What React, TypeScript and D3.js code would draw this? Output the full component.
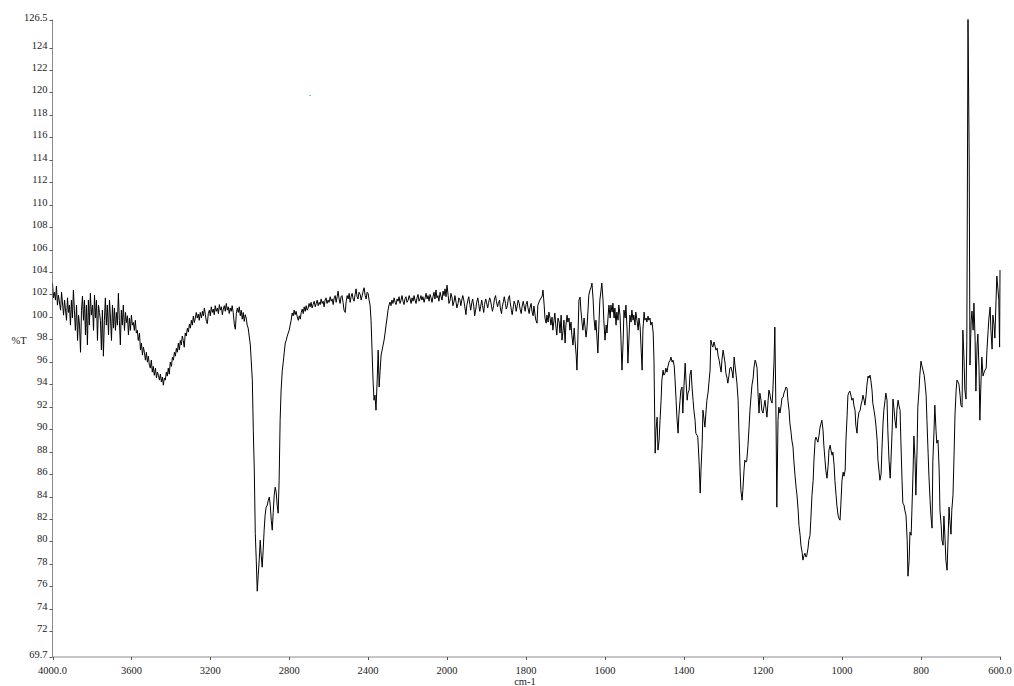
import React from "react";
import * as d3 from "d3";

// ---- Data: wavenumber (cm-1), %T ----
const region4000to3000: [number, number][] = [
  [4000,103.0],[3995,101.7],[3990,102.2],[3985,101.5],[3980,102.75],[3975,101.05],[3970,101.94],[3959,100.6],[3954,102.2],[3944,100.16],[3939,101.5],[3929,99.7],[3924,101.7],[3919,100.4],[3914,101.05],[3909,99.27],[3904,101.5],[3899,99.9],[3894,102.4],[3889,100.6],[3884,98.8],[3878,101.05],[3873,97.9],[3868,100.16],[3863,99.27],[3858,96.85],[3853,100.6],[3848,101.85],[3843,99.7],[3838,101.5],[3833,98.4],[3828,101.05],[3823,97.5],[3818,101.5],[3813,99.27],[3808,102.1],[3803,100.16],[3797,101.05],[3792,98.8],[3787,101.94],[3782,99.9],[3777,101.5],[3772,97.9],[3767,101.05],[3762,100.4],[3757,99.7],[3752,97.05],[3747,100.6],[3742,96.5],[3737,99.7],[3732,101.7],[3727,99.27],[3722,101.05],[3716,98.4],[3711,101.5],[3706,99.9],[3701,97.9],[3696,101.05],[3691,99.0],[3686,100.8],[3681,98.8],[3676,100.4],[3671,99.27],[3666,102.1],[3661,99.7],[3656,97.5],[3651,100.6],[3646,99.27],[3641,101.05],[3635,98.8],[3630,100.4],[3625,99.5],[3620,100.1],[3615,98.4],[3610,99.9],[3605,98.8],[3600,100.16],[3595,99.27],[3590,99.5],[3585,98.8],[3580,99.7],[3575,98.56],[3570,98.8],[3565,97.9],[3559,98.56],[3554,97.05],[3549,97.67],[3544,96.6],[3539,97.3],[3534,96.85],[3529,96.15],[3524,96.85],[3519,95.97],[3514,96.5],[3509,95.7],[3504,95.44],[3499,96.15],[3494,95.08],[3489,95.6],[3484,94.8],[3478,95.44],[3473,94.55],[3468,95.08],[3463,94.8],[3458,94.37],[3453,94.9],[3448,94.2],[3443,94.64],[3438,93.92],[3433,94.55],[3428,94.37],[3423,95.08],[3418,94.73],[3413,95.44],[3408,94.9],[3403,95.97],[3397,95.6],[3392,96.4],[3387,96.15],[3382,96.85],[3377,96.5],[3372,97.2],[3367,96.85],[3362,97.67],[3357,97.05],[3352,97.9],[3347,97.5],[3342,98.3],[3337,97.9],[3332,97.3],[3327,98.56],[3322,98.3],[3316,99.0],[3311,98.65],[3306,99.36],[3301,99.0],[3296,99.7],[3291,99.27],[3286,100.07],[3281,99.5],[3276,99.9],[3271,100.4],[3266,99.9],[3261,100.25],[3256,99.7],[3251,100.4],[3245,99.9],[3240,100.5],[3235,100.1],[3230,100.8],[3225,100.2],[3220,99.6],[3215,99.4],[3210,100.3],[3205,100.6],[3200,100.1],[3195,100.9],[3190,100.4],[3185,100.7],[3180,100.2],[3175,101.0],[3170,100.5],[3164,100.8],[3159,100.3],[3154,101.1],[3149,100.6],[3144,100.9],[3139,100.2],[3134,100.7],[3129,101.0],[3124,100.5],[3119,101.2],[3114,100.6],[3109,100.9],[3104,100.3],[3099,100.8],[3094,100.5],[3089,101.0],[3084,100.4],[3078,99.3],[3073,98.9],[3068,100.3],[3063,100.8],[3058,100.4],[3053,100.9],[3048,100.1],[3043,100.6],[3038,99.8],[3033,100.4],[3028,99.6],[3023,100.2],[3018,99.9],[3013,99.27],[3008,99.0]
];

const region3000to2000: [number, number][] = [
  [2997,97.5],[2987,94.37],[2982,89.9],[2977,86.35],[2972,80.73],[2967,78.33],[2962,75.56],[2957,76.99],[2952,78.33],[2947,80.1],[2942,78.77],[2937,77.7],[2932,79.22],[2927,81.0],[2922,82.34],[2917,83.05],[2911,83.23],[2906,83.67],[2901,83.94],[2896,83.23],[2891,81.89],[2886,81.0],[2881,82.6],[2876,84.12],[2871,84.83],[2866,84.39],[2861,83.23],[2856,82.51],[2851,85.45],[2846,90.8],[2841,93.48],[2835,95.26],[2830,95.97],[2825,96.86],[2820,97.67],[2815,97.93],[2810,98.29],[2805,98.56],[2800,98.82],[2795,99.27],
  [2790,99.71],[2785,100.34],[2780,100.1],[2775,100.6],[2770,100.2],[2765,100.5],[2759,100.0],[2754,99.7],[2749,100.1],[2744,99.8],[2739,100.4],[2734,100.7],[2729,100.3],[2724,100.9],[2719,100.5],[2714,101.0],[2709,100.6],[2704,100.8],[2699,101.2],[2694,100.9],[2689,101.3],[2684,100.8],[2679,101.1],[2673,101.4],[2668,100.9],[2663,101.2],[2658,101.5],[2653,101.0],[2648,101.3],[2643,101.1],[2638,101.6],[2633,101.2],[2628,101.4],[2623,100.9],[2618,101.5],[2613,101.7],[2608,101.2],[2603,101.5],[2598,101.3],[2592,101.8],[2587,101.4],[2582,101.6],[2577,101.1],[2572,101.7],[2567,101.9],[2562,101.3],[2557,101.8],[2552,102.3],[2547,101.6],[2542,101.2],[2537,101.8],[2532,101.9],[2527,101.3],[2522,100.6],[2516,100.4],[2511,101.4],[2506,101.9],[2501,101.6],[2496,102.1],[2491,101.3],[2486,101.8],[2481,102.1],[2476,101.6],[2471,101.4],[2466,102.0],[2461,102.5],[2456,101.8],[2451,101.6],[2446,102.2],[2440,102.0],[2435,101.5],[2430,101.9],[2425,102.3],[2420,102.6],[2415,101.9],[2410,101.6],[2405,102.2],[2400,102.1],[2395,101.5],[2390,101.05],
  [2385,99.71],[2380,97.04],[2375,94.37],[2370,92.58],[2365,93.03],[2360,91.69],[2354,94.37],[2349,97.04],[2344,93.75],[2339,95.26],[2334,96.6],[2329,97.04],[2324,97.49],[2319,97.93],[2314,98.56],[2309,99.27],[2304,99.9],[2299,100.61],[2294,101.05],
  [2289,101.32],[2284,101.0],[2279,101.5],[2274,101.2],[2268,101.7],[2263,101.3],[2258,101.1],[2253,101.6],[2248,101.4],[2243,101.8],[2238,101.2],[2233,101.5],[2228,101.9],[2223,101.4],[2218,101.1],[2213,101.6],[2208,101.8],[2203,101.3],[2197,101.5],[2192,101.9],[2187,101.6],[2182,101.2],[2177,101.7],[2172,101.4],[2167,101.9],[2162,101.5],[2157,101.2],[2152,101.7],[2147,102.0],[2142,101.4],[2137,101.6],[2132,101.9],[2127,101.5],[2122,101.8],[2116,101.3],[2111,101.7],[2106,102.1],[2101,101.6],[2096,101.9],[2091,101.4],[2086,102.0],[2081,101.7],[2076,101.3],[2071,101.8],[2066,102.2],[2061,101.6],[2056,102.4],[2051,101.7],[2046,101.9],[2041,101.4],[2035,102.2],[2030,101.8],[2025,101.5],[2020,102.3],[2015,101.9],[2010,102.5],[2005,101.8],[2000,102.83]
];

const region2000to1400: [number, number][] = [
  [1997,101.9],[1995,101.2],[1992,101.5],[1990,102.1],[1987,101.7],[1985,101.0],[1982,101.4],[1980,101.9],[1977,101.3],[1975,100.8],[1972,101.2],[1970,101.7],[1967,101.5],[1965,101.0],[1962,101.6],[1960,101.9],[1957,101.4],[1955,100.9],[1952,100.2],[1950,101.0],[1947,101.5],[1945,101.8],[1942,101.1],[1940,100.6],[1937,101.3],[1935,101.6],[1932,100.9],[1930,100.1],[1927,100.7],[1925,101.3],[1922,101.7],[1920,101.2],[1917,100.5],[1915,100.9],[1912,101.5],[1910,101.0],[1907,100.4],[1905,101.1],[1902,101.6],[1900,101.3],[1897,100.8],[1895,101.2],[1892,101.7],[1890,101.5],[1887,100.9],[1885,100.5],[1882,101.0],[1880,101.6],[1877,101.9],[1875,101.4],[1872,100.9],[1870,101.2],[1867,101.5],[1865,100.8],[1862,100.3],[1860,100.9],[1857,101.4],[1855,101.8],[1852,101.2],[1850,100.7],[1847,101.0],[1845,101.6],[1842,101.9],[1840,101.3],[1837,100.6],[1835,100.2],[1832,100.9],[1830,101.4],[1827,101.1],[1825,100.5],[1822,101.0],[1820,101.5],[1817,101.2],[1815,100.7],[1812,100.3],[1810,100.9],[1807,101.4],[1805,101.0],[1802,100.5],[1800,101.1],[1797,101.4],[1795,100.8],[1792,100.3],[1790,100.8],[1787,101.2],[1785,100.52],[1782,100.1],[1780,100.97],
  [1777,100.16],[1775,99.71],[1772,99.44],[1770,101.05],[1765,101.5],[1759,101.86],[1757,102.39],[1754,101.05],[1752,99.9],[1749,99.44],[1747,100.16],[1744,99.54],[1742,100.43],[1739,99.9],[1737,99.27],[1734,99.98],[1732,98.82],[1729,99.71],[1727,100.34],[1724,99.0],[1722,98.38],[1719,99.9],[1716,99.54],[1714,98.56],[1711,100.16],[1709,97.93],[1706,98.82],[1704,99.71],[1701,97.67],[1699,99.27],[1696,100.16],[1694,99.54],[1691,99.9],[1689,98.82],[1686,99.54],[1684,98.38],[1681,97.49],[1678,99.0],[1676,97.93],[1673,96.6],[1671,95.26],[1668,98.82],[1666,101.5],[1663,101.77],[1661,100.61],[1658,99.44],[1656,98.82],[1653,99.9],[1651,99.27],[1648,98.2],[1646,98.82],[1643,100.61],[1641,101.94],[1638,102.39],[1635,102.66],[1633,103.01],[1630,101.5],[1628,99.9],[1625,98.82],[1623,99.71],[1620,97.93],[1618,96.78],[1615,99.71],[1613,101.5],[1610,102.39],[1608,103.01],[1605,101.5],[1603,99.71],[1600,97.93],[1597,99.27],[1595,98.56],[1592,100.16],[1590,101.05],[1587,99.9],[1585,101.05],[1582,100.43],[1580,101.23],[1577,99.9],[1575,100.79],[1572,99.27],[1570,100.43],[1567,99.71],[1565,101.05],[1562,100.16],[1560,98.38],[1557,95.26],[1554,97.93],[1552,100.61],[1549,99.9],[1547,101.05],[1544,98.82],[1542,95.88],[1539,98.38],[1537,100.16],[1534,99.54],[1532,100.61],[1529,99.71],[1527,100.16],[1524,99.27],[1522,100.43],[1519,99.71],[1516,98.82],[1514,99.9],[1511,99.09],[1509,97.49],[1506,95.26],[1504,98.82],[1501,100.43],[1499,99.71],[1496,99.9],[1494,99.54],[1491,100.07],[1489,99.71],[1486,99.9],[1484,99.27],[1481,99.54],[1478,98.56],[1476,96.15],[1473,87.86],[1471,89.91],[1468,91.07],[1466,88.13],[1463,89.02],[1461,90.54],[1458,92.58],[1456,94.37],[1453,95.26],[1451,94.81],[1448,94.99],[1446,95.44],[1443,95.08],[1441,95.53],[1438,95.97],[1435,96.15],[1433,96.42],[1430,95.97],[1428,96.15],[1425,95.7],[1423,94.63],[1420,92.58],[1418,91.07],[1415,89.64],[1413,91.25],[1410,92.58],[1408,93.48],[1405,93.75],[1403,91.43]
];

const region1400to600: [number, number][] = [
  [1400,93.92],[1397,95.88],[1395,94.37],[1392,92.58],[1390,93.21],[1387,93.48],[1385,94.81],[1382,95.26],[1380,93.92],[1377,92.58],[1375,91.69],[1372,90.8],[1370,89.64],[1367,89.46],[1365,89.29],[1362,87.24],[1359,84.3],[1357,86.35],[1354,88.75],[1352,91.69],[1349,90.8],[1347,90.18],[1344,91.69],[1342,92.58],[1339,93.3],[1337,94.1],[1334,95.26],[1332,97.93],[1329,97.49],[1327,97.31],[1324,97.76],[1322,97.49],[1319,97.04],[1316,97.22],[1314,96.6],[1311,96.15],[1309,95.7],[1306,95.08],[1304,96.15],[1301,97.04],[1299,96.6],[1296,95.88],[1294,94.99],[1291,94.55],[1289,94.1],[1286,94.81],[1284,95.44],[1281,95.53],[1278,95.08],[1276,94.55],[1273,96.42],[1271,95.7],[1268,94.81],[1266,94.1],[1263,92.58],[1261,89.91],[1258,86.35],[1256,84.56],[1253,83.67],[1251,84.56],[1248,86.35],[1246,87.24],[1243,87.06],[1241,87.24],[1238,88.57],[1235,90.36],[1233,91.69],[1230,93.03],[1228,93.92],[1225,94.55],[1223,95.44],[1220,96.15],[1218,95.97],[1215,95.44],[1213,93.48],[1210,91.43],[1208,93.21],[1205,92.58],[1203,91.69],[1200,91.43],[1197,92.14],[1195,92.58],[1192,91.69],[1190,91.07],[1187,92.58],[1185,93.48],[1182,93.03],[1180,92.58],[1177,92.32],[1175,93.48],[1172,96.15],[1170,99.09],[1167,90.8],[1165,83.05],[1162,90.8],[1160,91.96],[1157,91.43],[1154,92.14],[1152,92.77],[1149,92.85],[1147,93.21],[1144,93.48],[1142,93.75],[1139,93.66],[1137,92.58],[1134,91.69],[1132,90.54],[1129,89.73],[1127,89.02],[1124,88.4],[1122,87.24],[1119,85.9],[1116,84.74],[1114,84.12],[1111,82.78],[1109,81.44],[1106,80.55],[1104,79.66],[1101,79.04],[1099,78.33],[1096,78.77],[1094,78.95],[1091,78.6],[1089,78.77],[1086,79.4],[1084,80.11],[1081,80.55],[1079,81.89],[1076,84.12],[1073,85.45],[1071,87.24],[1068,89.02],[1066,89.29],[1063,89.02],[1061,88.84],[1058,89.46],[1056,90.09],[1053,90.54],[1051,90.8],[1048,89.91],[1046,88.57],[1043,87.24],[1041,86.35],[1038,85.63],[1035,86.79],[1033,88.13],[1030,88.57],[1028,88.13],[1025,87.68],[1023,87.95],[1020,86.79],[1018,85.45],[1015,84.12],[1013,83.23],[1010,82.34],[1008,82.07],[1005,81.89],[1003,83.23],[1000,85.45],[997,86.17],[995,85.81],[992,86.35],[990,89.02],[987,91.25],[985,93.03],[982,93.3],[980,93.39],[977,92.94],[975,92.58],[972,92.76],[970,92.14],[967,91.69],[965,90.36],[962,89.64],[960,90.8],[957,91.52],[954,91.69],[952,92.14],[949,92.58],[947,93.03],[944,92.58],[942,92.14],[939,93.03],[937,93.92],[934,94.73],[932,94.55],[929,94.81],[927,94.37],[924,93.48],[922,92.32],[919,91.69],[916,90.98],[914,90.27],[911,89.02],[909,87.24],[906,86.17],[904,85.45],[901,85.99],[899,88.13],[896,90.63],[894,91.69],[891,92.58],[889,93.21],[886,92.58],[884,89.91],[881,87.24],[878,85.63],[876,87.24],[873,89.91],[871,92.68],[868,91.69],[866,90.8],[863,90.09],[861,91.69],[858,92.58],[856,92.14],[853,91.69],[851,89.02],[848,85.45],[846,83.41],[843,83.23],[841,82.78],[838,82.34],[835,80.11],[833,76.9],[830,78.33],[828,80.82],[825,80.55],[823,82.78],[820,86.35],[818,89.38],[815,87.24],[813,84.12],[810,88.13],[808,91.96],[805,93.48],[803,94.81],[800,96.06],[798,95.7],[795,95.26],[792,94.81],[790,94.19],[787,93.03],[785,90.8],[782,87.86],[780,85.9],[777,83.67],[775,82.34],[772,81.18],[770,87.15],[767,89.91],[765,92.14],[762,89.91],[760,88.75],[757,89.02],[754,86.35],[752,82.78],[749,81.44],[747,80.11],[744,79.66],[742,82.25],[739,80.11],[737,78.33],[734,77.43],[732,79.66],[729,83.05],[727,81.89],[724,80.64],[722,82.78],[719,84.12],[716,88.13],[714,91.25],[711,93.48],[709,94.37],[706,94.19],[704,94.01],[701,93.03],[699,92.14],[696,91.96],[694,98.82],[691,96.15],[689,93.48],[686,92.68],[684,97.93],[681,126.5],[678,113.89],[676,95.71],[673,99.71],[671,100.52],[668,98.82],[666,101.23],[663,97.93],[661,93.39],[658,97.49],[656,98.47],[653,95.26],[651,90.8],[648,94.37],[646,96.42],[643,94.73],[640,95.08],[638,95.26],[635,95.44],[633,97.04],[630,98.82],[628,99.9],[625,100.88],[623,98.82],[620,97.13],[618,100.16],[615,99.27],[613,98.11],[610,101.5],[608,103.64],[605,102.39],[603,101.5],[601,97.31],[600,104.17]
];

const xTickValues = [4000, 3600, 3200, 2800, 2400, 2000, 1800, 1600, 1400, 1200, 1000, 800, 600];
const xTickLabels = ["4000.0", "3600", "3200", "2800", "2400", "2000", "1800", "1600", "1400", "1200", "1000", "800", "600.0"];
const yTickValues = [126.5, 124, 122, 120, 118, 116, 114, 112, 110, 108, 106, 104, 102, 100, 98, 96, 94, 92, 90, 88, 86, 84, 82, 80, 78, 76, 74, 72, 69.7];
const yTickLabels = ["126.5", "124", "122", "120", "118", "116", "114", "112", "110", "108", "106", "104", "102", "100", "98", "96", "94", "92", "90", "88", "86", "84", "82", "80", "78", "76", "74", "72", "69.7"];
const xAxisTitle = "cm-1";
const yAxisTitle = "%T";

const W = 1014;
const H = 686;
const left = 52.5;
const right = 1000;
const top = 19.5;
const bottom = 657;

export default function App() {
  const x = d3.scaleLinear().domain([4000, 2000, 600]).range([left, 447, right]);
  const y = d3.scaleLinear().domain([69.7, 126.5]).range([bottom, top]);
  const spectrum = [...region4000to3000, ...region3000to2000, ...region2000to1400, ...region1400to600];
  const line = d3
    .line<[number, number]>()
    .x((d) => x(d[0]))
    .y((d) => y(d[1]));
  const font = "'Liberation Serif', 'Times New Roman', serif";
  const axisColor = "#8c8c8c";
  return (
    <svg
      width={W}
      height={H}
      viewBox={`0 0 ${W} ${H}`}
      style={{ position: "absolute", left: 0, top: 0, background: "#fff" }}
    >
      <defs>
        <clipPath id="plotClip">
          <rect x={left} y={top - 1} width={right - left + 2} height={bottom - top + 1} />
        </clipPath>
      </defs>
      <rect x={0} y={0} width={W} height={H} fill="#fff" />
      <line x1={left} y1={top} x2={left} y2={bottom} stroke={axisColor} strokeWidth={1} />
      <line x1={left} y1={bottom} x2={right + 1} y2={bottom} stroke={axisColor} strokeWidth={1} />
      {yTickValues.map((v, i) => (
        <g key={"yt" + i}>
          <line x1={left - 3} x2={left} y1={Math.round(y(v)) + 0.5} y2={Math.round(y(v)) + 0.5} stroke="#555" strokeWidth={1} />
          <text x={left - 5} y={y(v) + 1} textAnchor="end" fontFamily={font} fontSize={10.5} fill="#222">
            {yTickLabels[i]}
          </text>
        </g>
      ))}
      {xTickValues.map((v, i) => (
        <g key={"xt" + i}>
          <line x1={Math.round(x(v)) + 0.5} x2={Math.round(x(v)) + 0.5} y1={bottom} y2={bottom + 3} stroke="#555" strokeWidth={1} />
          <text x={x(v)} y={674} textAnchor="middle" fontFamily={font} fontSize={10.5} fill="#222">
            {xTickLabels[i]}
          </text>
        </g>
      ))}
      <text x={525} y={685} textAnchor="middle" fontFamily={font} fontSize={10.5} fill="#222">
        {xAxisTitle}
      </text>
      <text x={19} y={344} textAnchor="middle" fontFamily={font} fontSize={10.5} fill="#222">
        {yAxisTitle}
      </text>
      <rect x={309} y={95} width={2} height={1} fill="#5fe08f" />
      <path d={line(spectrum) || ""} fill="none" stroke="#000" strokeWidth={1} clipPath="url(#plotClip)" />
    </svg>
  );
}
